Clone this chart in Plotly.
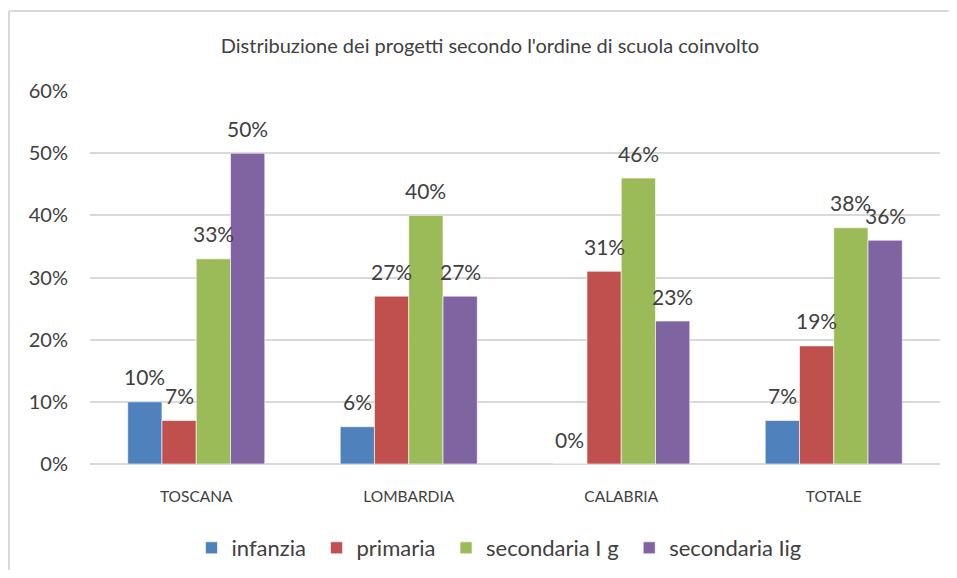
import plotly.graph_objects as go

categories = ["TOSCANA", "LOMBARDIA", "CALABRIA", "TOTALE"]
series_names = ["infanzia", "primaria", "secondaria I g", "secondaria Iig"]
infanzia = [0.10, 0.06, 0.00, 0.07]
primaria = [0.07, 0.27, 0.31, 0.19]
secondaria_1 = [0.33, 0.40, 0.46, 0.38]
secondaria_2 = [0.50, 0.27, 0.23, 0.36]
colors = ["#4F81BD", "#C0504D", "#9BBB59", "#8064A2"]
title = "Distribuzione dei progetti secondo l'ordine di scuola coinvolto"

FONT = "Lato, 'Open Sans', sans-serif"
TXT = "#404040"
OFF = 8  # browser body margin
W, H = 957 - 2 * OFF, 578 - 2 * OFF
L, T = 90 - OFF, 91 - OFF
R = W - (940 - OFF)
B = H - (464 - OFF)
pw, ph = W - L - R, H - T - B
BARGAP = 0.355
bar_px = pw / len(categories) * (1 - BARGAP) / len(series_names)

all_series = [infanzia, primaria, secondaria_1, secondaria_2]

fig = go.Figure()
for name, vals, col in zip(series_names, all_series, colors):
    fig.add_trace(go.Bar(
        name=name + "\u00a0", x=categories, y=vals,
        marker=dict(color=col, line=dict(color="rgba(255,255,255,0.6)", width=1)),
    ))

annotations = []
n = len(series_names)
for i, vals in enumerate(all_series):
    for cat, v in zip(categories, vals):
        annotations.append(dict(
            x=cat, y=v, xref="x", yref="y", text=f"{round(v*100)}%",
            showarrow=False, xanchor="center", yanchor="middle",
            xshift=(i - (n - 1) / 2) * bar_px, yshift=25,
            font=dict(family=FONT, size=21, color=TXT),
        ))

def px_x(x):
    return (x - OFF - L) / pw

def px_y(y):
    return (H - B - (y - OFF)) / ph

fig.update_layout(
    width=W, height=H,
    margin=dict(l=L, r=R, t=T, b=B),
    paper_bgcolor="white", plot_bgcolor="white",
    barmode="group", bargap=BARGAP, bargroupgap=0,
    title=dict(text=title, x=(490 - OFF) / W, xanchor="center", y=1 - (46 - OFF) / H, yanchor="middle",
               font=dict(family=FONT, size=20, color=TXT)),
    yaxis=dict(range=[0, 0.6], tickformat=".0%", dtick=0.1,
               showgrid=True, gridcolor="#D9D9D9", gridwidth=1.5,
               zeroline=True, zerolinecolor="#D9D9D9", zerolinewidth=2,
               tickfont=dict(family=FONT, size=20, color=TXT),
               ticklen=0, ticks="", ticklabelstandoff=21),
    xaxis=dict(tickfont=dict(family=FONT, size=15.5, color=TXT),
               ticks="", showline=False, ticklabelstandoff=21),
    legend=dict(orientation="h", x=(502 - OFF) / W, xanchor="center", xref="container",
                y=1 - (548 - OFF) / H, yref="container", yanchor="middle",
                font=dict(family=FONT, size=22, color=TXT),
                itemwidth=30, traceorder="normal"),
    showlegend=True,
    annotations=annotations,
    shapes=[
        dict(type="line", xref="paper", yref="paper", x0=px_x(9), x1=px_x(960), y0=px_y(11), y1=px_y(11),
             line=dict(color="#D9D9D9", width=2)),
        dict(type="line", xref="paper", yref="paper", x0=px_x(9), x1=px_x(9), y0=px_y(11), y1=px_y(580),
             line=dict(color="#D9D9D9", width=2)),
    ],
)

fig.write_html("out.html")
